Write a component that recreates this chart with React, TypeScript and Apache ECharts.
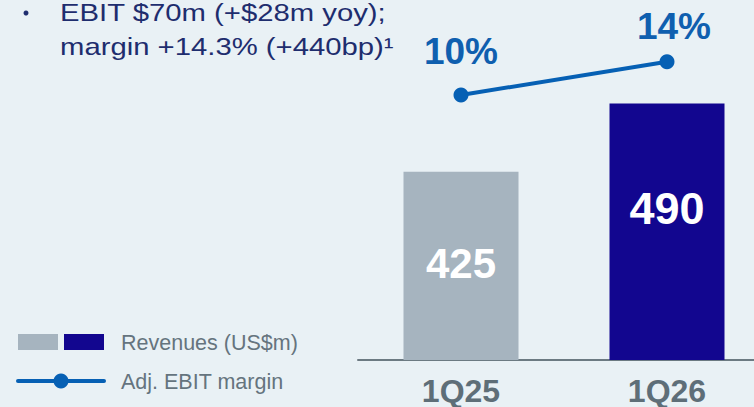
import React, { useEffect, useRef } from "react";
import * as echarts from "echarts";

const categories = ["1Q25", "1Q26"];
const revenues = [425, 490];
const ebitMargin = [9.9, 14.3];
const barColors = ["#A6B4BF", "#12068F"];
const headline = ["EBIT $70m (+$28m yoy);", "margin +14.3% (+440bp)¹"];
const legendNames = ["Revenues (US$m)", "Adj. EBIT margin"];

export default function App() {
  const ref = useRef<HTMLDivElement>(null);
  useEffect(() => {
    document.body.style.margin = "0";
    const chart = echarts.init(ref.current!, null, { renderer: "svg" });
    const font = "Liberation Sans, Arial, sans-serif";
    chart.setOption({
      animation: false,
      backgroundColor: "#E9F1F5",
      grid: { left: 358, right: 0, top: 0, bottom: 47 },
      xAxis: {
        type: "category",
        data: categories,
        axisLine: { show: true, onZero: false, lineStyle: { color: "#6C7A82", width: 2 } },
        axisTick: { show: false },
        axisLabel: {
          color: "#5E6E78",
          fontSize: 32,
          lineHeight: 26,
          fontWeight: "bold",
          fontFamily: font,
          margin: 17.5,
        },
      },
      yAxis: [
        { type: "value", min: 245, max: 589, show: false, splitLine: { show: false } },
        { type: "value", min: -25.1, max: 22.45, show: false, splitLine: { show: false } },
      ],
      series: [
        {
          type: "bar",
          barWidth: 115,
          data: revenues.map((v, i) => ({
            value: v,
            itemStyle: { color: barColors[i] },
            label: { offset: [0, i === 1 ? -23.5 : -2.5], fontSize: i === 1 ? 45 : 42 },
          })),
          label: {
            show: true,
            position: "inside",
            color: "#FFFFFF",
            fontSize: 42,
            fontWeight: "bold",
            fontFamily: font,
          },
        },
        {
          type: "line",
          yAxisIndex: 1,
          data: ebitMargin.map((v, i) => ({
            value: v,
            label: { offset: i === 1 ? [7, 8] : [0, 0] },
          })),
          symbol: "circle",
          symbolSize: 15,
          lineStyle: { color: "#0660B4", width: 4 },
          itemStyle: { color: "#0660B4" },
          label: {
            show: true,
            position: "top",
            distance: 17.5,
            formatter: (p: any) => Math.round(p.value) + "%",
            color: "#0F5FAF",
            fontSize: 37,
            fontWeight: "bold",
            fontFamily: font,
          },
        },
      ],
      graphic: [
        { type: "circle", shape: { cx: 26, cy: 13, r: 2.5 }, style: { fill: "#1E2D6E" } },
        {
          type: "text",
          x: 60,
          y: 12.5,
          scaleX: 1.22,
          style: { text: headline[0], fontSize: 24, lineHeight: 20, fontFamily: font, fill: "#1E2D6E", verticalAlign: "middle" },
        },
        {
          type: "text",
          x: 60,
          y: 46.5,
          scaleX: 1.22,
          style: { text: headline[1], fontSize: 24, lineHeight: 20, fontFamily: font, fill: "#1E2D6E", verticalAlign: "middle" },
        },
        { type: "rect", shape: { x: 18, y: 334, width: 40, height: 16 }, style: { fill: barColors[0] } },
        { type: "rect", shape: { x: 64, y: 334, width: 40, height: 16 }, style: { fill: barColors[1] } },
        {
          type: "text",
          x: 121,
          y: 342.5,
          style: { text: legendNames[0], fontSize: 21.5, fontFamily: font, fill: "#65747E", verticalAlign: "middle" },
        },
        {
          type: "line",
          shape: { x1: 18, y1: 381, x2: 104, y2: 381 },
          style: { stroke: "#0660B4", lineWidth: 4, lineCap: "round" },
        },
        { type: "circle", shape: { cx: 61, cy: 381, r: 7.5 }, style: { fill: "#0660B4" } },
        {
          type: "text",
          x: 121,
          y: 381.5,
          style: { text: legendNames[1], fontSize: 21.5, fontFamily: font, fill: "#65747E", verticalAlign: "middle" },
        },
      ],
    });
    return () => chart.dispose();
  }, []);
  return (
    <div style={{ width: 754, height: 407, overflow: "hidden" }}>
      <div ref={ref} style={{ width: 770, height: 407 }} />
    </div>
  );
}
